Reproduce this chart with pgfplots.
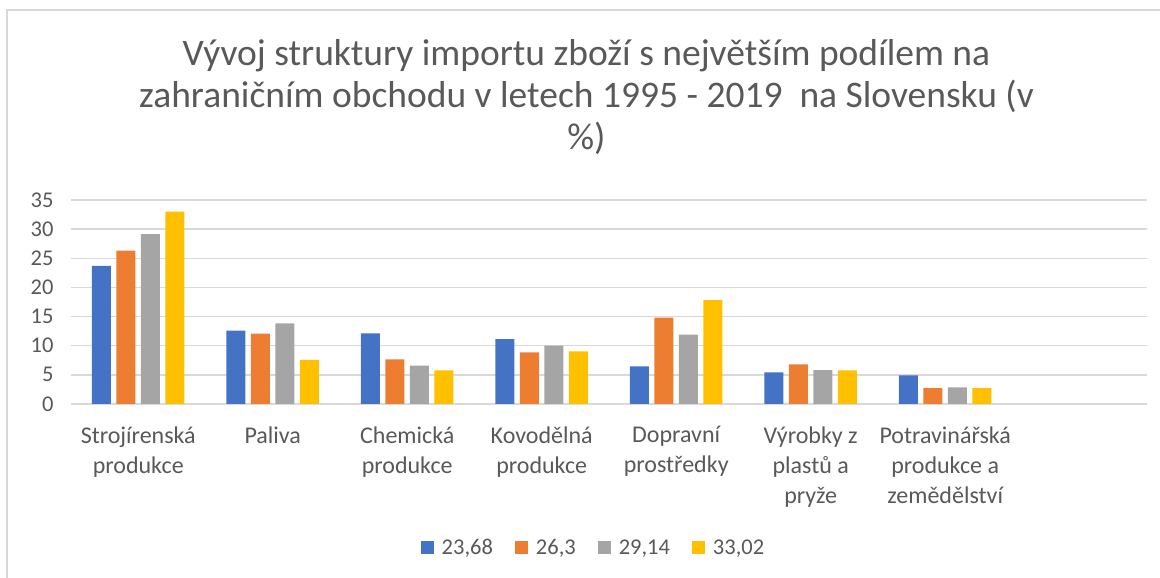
\documentclass[border=0pt]{standalone}
\usepackage{pgfplots}
\pgfplotsset{compat=1.18}
\usepackage{fontspec}
\setmainfont{Carlito}
\definecolor{cblue}{HTML}{4472C4}
\definecolor{corange}{HTML}{ED7D31}
\definecolor{cgray}{HTML}{A5A5A5}
\definecolor{cyellow}{HTML}{FFC000}
\definecolor{txt}{HTML}{595959}
\definecolor{grd}{HTML}{D9D9D9}
\begin{document}
\begin{tikzpicture}[x=1pt,y=1pt]
\useasboundingbox (0,0) rectangle (1160,578);
\draw[grd, line width=1.2pt] (7,-5) -- (7,568) -- (1170,568);
\node[anchor=base, align=center, text=txt, font=\fontsize{37.5}{42}\selectfont] at (586.5,428)
  {Vývoj struktury importu zboží s největším podílem na\\zahraničním obchodu v letech 1995 - 2019~ na Slovensku (v\\\%)};
\begin{axis}[
  at={(71pt,174pt)}, anchor=south west,
  scale only axis, width=1076pt, height=204pt,
  xmin=-0.5, xmax=7.5, ymin=0, ymax=35,
  ytick={0,5,...,35},
  xtick={0,1,2,3,4,5,6},
  xticklabels={{Strojírenská\\produkce},{Paliva},{Chemická\\produkce},{Kovodělná\\produkce},{Dopravní\\prostředky},{Výrobky z\\plastů a\\pryže},{Potravinářská\\produkce a\\zemědělství}},
  ybar=5.5pt, bar width=19pt,
  axis line style={draw=none},
  major tick length=0pt,
  ymajorgrids, grid style={grd, line width=1.5pt},
  tick label style={text=txt, font=\fontsize{24}{30}\selectfont},
  xticklabel style={align=center, anchor=north, yshift=-19pt},
  yticklabel style={xshift=-14pt, font=\fontsize{22.5}{27}\selectfont},
  /pgf/number format/assume math mode=true,
  legend style={draw=none, at={(0.4856,-0.706)}, anchor=center, legend columns=4,
    font=\fontsize{22.5}{27}\selectfont, text=txt,
    /tikz/every odd column/.append style={column sep=6pt},
    /tikz/every even column/.append style={column sep=20pt}},
  legend image code/.code={\fill[#1] (0pt,-6pt) rectangle (13pt,7pt);},
]
\addplot[draw=none, fill=cblue] coordinates {(0,23.68) (1,12.6) (2,12.13) (3,11.15) (4,6.47) (5,5.44) (6,4.92)};
\addplot[draw=none, fill=corange] coordinates {(0,26.3) (1,12.06) (2,7.67) (3,8.87) (4,14.8) (5,6.81) (6,2.74)};
\addplot[draw=none, fill=cgray] coordinates {(0,29.14) (1,13.84) (2,6.57) (3,10.0) (4,11.9) (5,5.83) (6,2.86)};
\addplot[draw=none, fill=cyellow] coordinates {(0,33.02) (1,7.55) (2,5.78) (3,9.04) (4,17.84) (5,5.78) (6,2.74)};
\legend{{23,68},{26,3},{29,14},{33,02}}
\end{axis}
\end{tikzpicture}
\end{document}
